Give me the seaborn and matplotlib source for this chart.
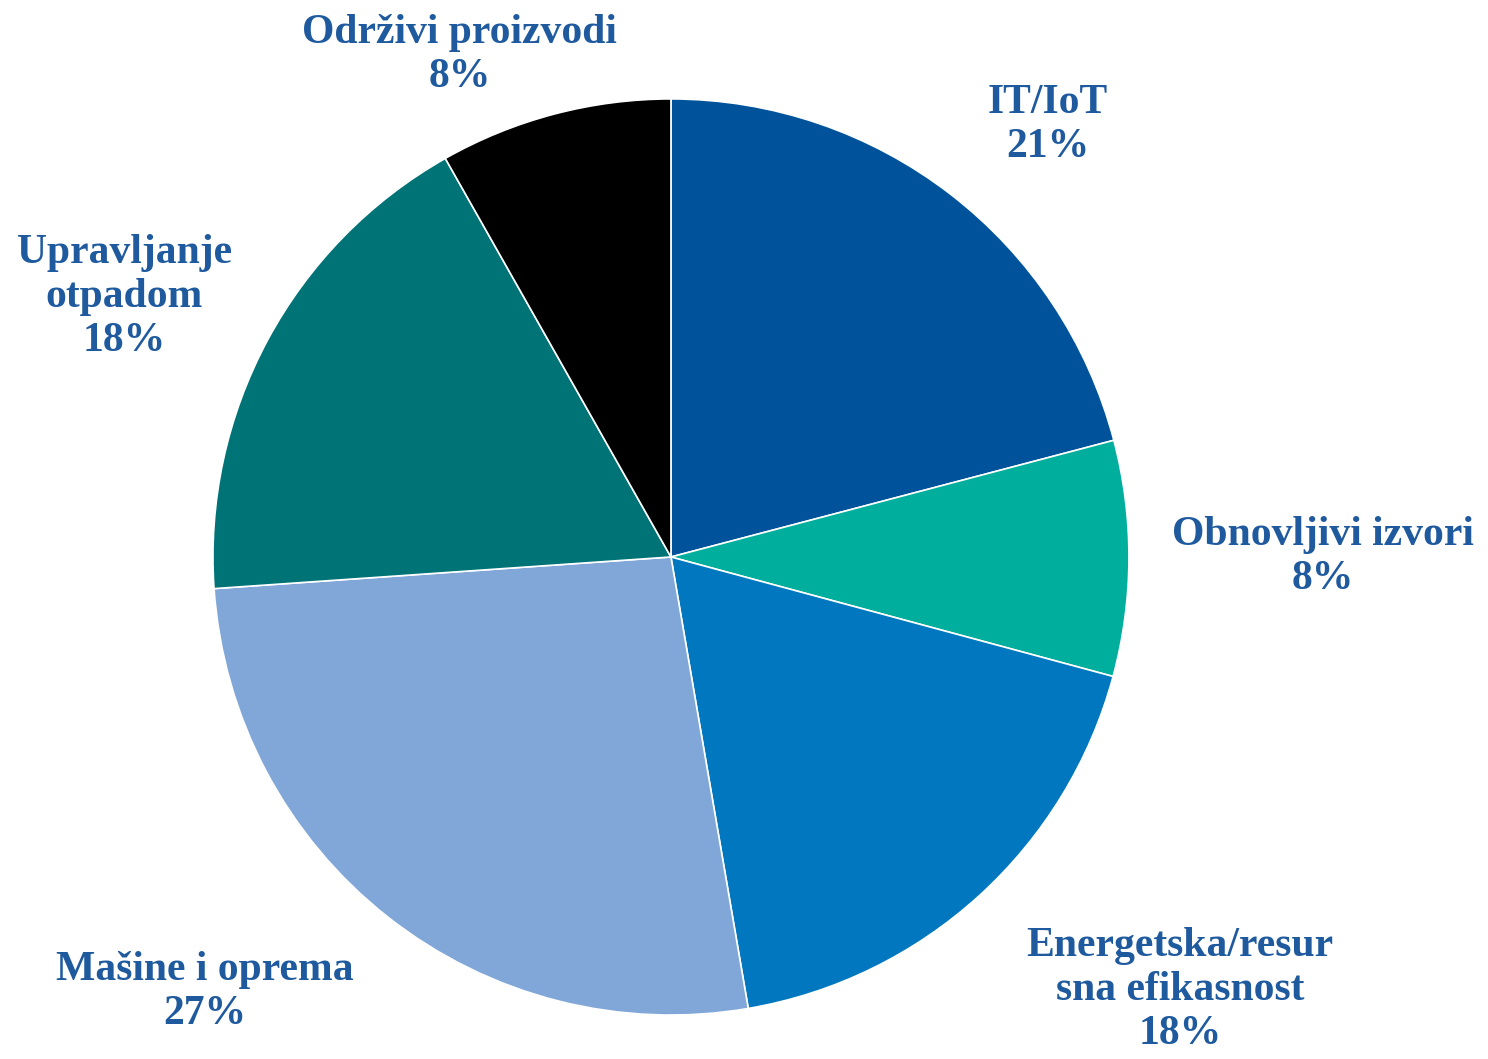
import matplotlib.pyplot as plt
import seaborn as sns

# kategorije i udjeli (procenti)
categories = [
    "IT/IoT",
    "Obnovljivi izvori",
    "Energetska/resur\nsna efikasnost",
    "Mašine i oprema",
    "Upravljanje\notpadom",
    "Održivi proizvodi",
]
shares = [20.9, 8.3, 18.1, 26.6, 17.9, 8.2]
slice_colors = ["#00529B", "#00AE9D", "#0077BF", "#80A7D7", "#007377", "#000000"]

# položaji oznaka (u jedinicama radijusa)
label_pos = [
    (0.823, 0.943),
    (1.424, 0.0),
    (1.111, -0.945),
    (-1.017, -0.950),
    (-1.194, 0.568),
    (-0.461, 1.096),
]

sns.set_theme(style="white")
plt.rcParams["font.family"] = ["Liberation Serif", "DejaVu Serif"]

fig = plt.figure(figsize=(14.88, 10.59), dpi=100)
ax = fig.add_axes([0, 0, 1, 1])

palette = sns.color_palette(slice_colors)
wedges, _ = ax.pie(
    shares,
    colors=palette,
    startangle=90,
    counterclock=False,
    radius=1.0,
    wedgeprops=dict(edgecolor="white", linewidth=1.2),
)

text_color = "#1F5A9E"
for name, val, (x, y) in zip(categories, shares, label_pos):
    ax.text(x, y, f"{name}\n{val:.0f}%", ha="center", va="center", fontsize=30,
            fontweight="bold", color=text_color, linespacing=1.2)

ax.set_xlim(-1.465, 1.784)
ax.set_ylim(-1.096, 1.216)
ax.set_aspect("equal", adjustable="datalim")
ax.axis("off")

fig.savefig("out.png", dpi=100, facecolor="white")
